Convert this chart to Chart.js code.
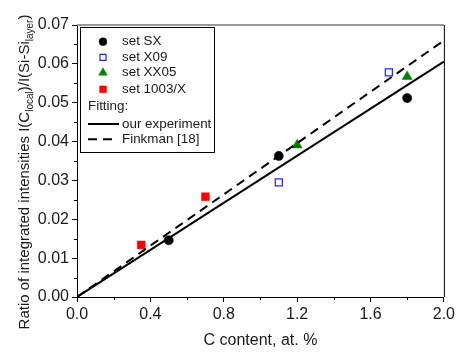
<!DOCTYPE html>
<html>
<head>
<meta charset="utf-8">
<script src="https://cdn.jsdelivr.net/npm/chart.js@4/dist/chart.umd.min.js"></script>
<style>
  html, body { margin: 0; padding: 0; background: #fff; }
  #wrap { width: 458px; height: 352px; }
</style>
</head>
<body>
<div id="wrap"><canvas id="chart" width="458" height="352"></canvas></div>
<script>
// measured points
var sxX = [0.5, 1.1, 1.8];
var sxY = [0.0146, 0.0363, 0.0512];
var x09X = [1.1, 1.7];
var x09Y = [0.0295, 0.0578];
var xx05X = [1.2, 1.8];
var xx05Y = [0.0391, 0.0567];
var s1003X = [0.35, 0.7];
var s1003Y = [0.0134, 0.0258];

// fitted lines
var fitX = [0, 2.0];
var ourFitY = [0, 0.0606];
var finkmanY = [0, 0.066];

var xTicks = [0, 0.4, 0.8, 1.2, 1.6, 2.0];
var yTicks = [0, 0.01, 0.02, 0.03, 0.04, 0.05, 0.06, 0.07];

var FONT = "'Liberation Sans', Arial, sans-serif";
var TEXT = "#1a1a1a";

function pts(xs, ys) {
  return xs.map(function(x, i) { return { x: x, y: ys[i] }; });
}

var series = [
  { label: "set SX", data: pts(sxX, sxY), pointStyle: "circle", radius: 4.6,
    backgroundColor: "#000", borderColor: "#000", borderWidth: 0.5 },
  { label: "set X09", data: pts(x09X, x09Y), pointStyle: "rect", radius: 5,
    backgroundColor: "#fff", borderColor: "#2222ee", borderWidth: 1.2 },
  { label: "set XX05", data: pts(xx05X, xx05Y), pointStyle: "triangle", radius: 5.8,
    backgroundColor: "#008000", borderColor: "#008000", borderWidth: 0.5 },
  { label: "set 1003/X", data: pts(s1003X, s1003Y), pointStyle: "rect", radius: 5.6,
    backgroundColor: "#ff0000", borderColor: "#ff0000", borderWidth: 0.5 }
];

var datasets = [
  { label: "our experiment", data: pts(fitX, ourFitY), showLine: true,
    borderColor: "#000", borderWidth: 2, pointRadius: 0, fill: false },
  { label: "Finkman [18]", data: pts(fitX, finkmanY), showLine: true,
    borderColor: "#000", borderWidth: 2, borderDash: [9, 6], pointRadius: 0, fill: false }
];
series.forEach(function(s) {
  datasets.push({
    label: s.label, data: s.data, showLine: false,
    pointStyle: s.pointStyle, pointRadius: s.radius, pointHoverRadius: s.radius,
    backgroundColor: s.backgroundColor, borderColor: s.borderColor,
    pointBorderWidth: s.borderWidth
  });
});

// frame, minor ticks, legend box, y title with subscripts
var extras = {
  id: "extras",
  afterDraw: function(chart) {
    var ctx = chart.ctx;
    var a = chart.chartArea;
    var xs = chart.scales.x, ys = chart.scales.y;
    ctx.save();

    // top and right border
    ctx.strokeStyle = "#777";
    ctx.lineWidth = 1.5;
    ctx.beginPath();
    ctx.moveTo(a.left, a.top);
    ctx.lineTo(a.right, a.top);
    ctx.stroke();
    ctx.strokeStyle = "#000";
    ctx.lineWidth = 1;
    ctx.beginPath();
    ctx.moveTo(a.right + 0.5, a.top);
    ctx.lineTo(a.right + 0.5, a.bottom);
    ctx.stroke();

    // minor ticks
    ctx.beginPath();
    for (var i = 0; i < xTicks.length - 1; i++) {
      var px = Math.round(xs.getPixelForValue((xTicks[i] + xTicks[i + 1]) / 2)) + 0.5;
      ctx.moveTo(px, a.bottom);
      ctx.lineTo(px, a.bottom + 3);
    }
    for (var j = 0; j < yTicks.length - 1; j++) {
      var py = Math.round(ys.getPixelForValue((yTicks[j] + yTicks[j + 1]) / 2)) + 0.5;
      ctx.moveTo(a.left, py);
      ctx.lineTo(a.left - 3, py);
    }
    ctx.stroke();

    // legend
    var bx = 80, by = 27, bw = 134, bh = 125;
    ctx.fillStyle = "#fff";
    ctx.fillRect(bx, by, bw, bh);
    ctx.strokeStyle = "#000";
    ctx.lineWidth = 1;
    ctx.strokeRect(bx + 0.5, by + 0.5, bw, bh);
    ctx.font = "13.4px " + FONT;
    ctx.textBaseline = "middle";
    ctx.textAlign = "left";
    var rows = [41.7, 57.3, 72.7, 89.3];
    series.forEach(function(s, k) {
      ctx.fillStyle = s.backgroundColor;
      ctx.strokeStyle = s.borderColor;
      ctx.lineWidth = s.borderWidth;
      Chart.helpers.drawPoint(ctx, {
        pointStyle: s.pointStyle, radius: s.radius * 0.85, rotation: 0,
        borderWidth: s.borderWidth
      }, 103, rows[k]);
      ctx.fillStyle = TEXT;
      ctx.fillText(s.label, 122, rows[k]);
    });
    ctx.fillStyle = TEXT;
    ctx.fillText("Fitting:", 88, 106.7);
    ctx.strokeStyle = "#000";
    ctx.lineWidth = 2;
    ctx.beginPath();
    ctx.moveTo(88, 124); ctx.lineTo(119, 124);
    ctx.stroke();
    ctx.setLineDash([9, 6]);
    ctx.beginPath();
    ctx.moveTo(88, 139.3); ctx.lineTo(118, 139.3);
    ctx.stroke();
    ctx.setLineDash([]);
    ctx.fillText("our experiment", 122, 124);
    ctx.fillText("Finkman [18]", 122, 139.3);

    // y title with subscripts
    var parts = [
      ["Ratio of integrated intensities I(C", false],
      ["local", true],
      [")/I(Si-Si", false],
      ["layer", true],
      [")", false]
    ];
    var big = "15px " + FONT, small = "10px " + FONT;
    var total = 0;
    parts.forEach(function(p) {
      ctx.font = p[1] ? small : big;
      total += ctx.measureText(p[0]).width;
    });
    ctx.translate(24, 172);
    ctx.rotate(-Math.PI / 2);
    ctx.fillStyle = TEXT;
    ctx.textBaseline = "alphabetic";
    var cx = -total / 2;
    parts.forEach(function(p) {
      ctx.font = p[1] ? small : big;
      ctx.fillText(p[0], cx, p[1] ? 9 : 5);
      cx += ctx.measureText(p[0]).width;
    });
    ctx.restore();
  }
};

new Chart("chart", {
  type: "scatter",
  data: { datasets: datasets },
  options: {
    responsive: false,
    animation: false,
    layout: { padding: { top: 25, right: 12, left: 0, bottom: 0 } },
    plugins: { legend: { display: false }, tooltip: { enabled: false } },
    scales: {
      x: {
        type: "linear", min: 0, max: 2,
        afterBuildTicks: function(s) { s.ticks = xTicks.map(function(v) { return { value: v }; }); },
        afterFit: function(s) { s.height = 55; },
        ticks: { padding: 3, color: TEXT, font: { family: FONT, size: 16 },
          callback: function(v) { return v.toFixed(1); } },
        grid: { drawOnChartArea: false, drawTicks: true, tickLength: 5, color: "#000" },
        border: { color: "#000", width: 1 },
        title: { display: true, text: "C content, at. %", color: TEXT,
          font: { family: FONT, size: 16 }, padding: { top: 2, bottom: 2 } }
      },
      y: {
        type: "linear", min: 0, max: 0.07,
        afterBuildTicks: function(s) { s.ticks = yTicks.map(function(v) { return { value: v }; }); },
        afterFit: function(s) { s.width = 77; },
        ticks: { padding: 3, color: TEXT, font: { family: FONT, size: 16 },
          callback: function(v) { return v.toFixed(2); } },
        grid: { drawOnChartArea: false, drawTicks: true, tickLength: 5, color: "#000" },
        border: { color: "#000", width: 1 }
      }
    }
  },
  plugins: [extras]
});
</script>
</body>
</html>
